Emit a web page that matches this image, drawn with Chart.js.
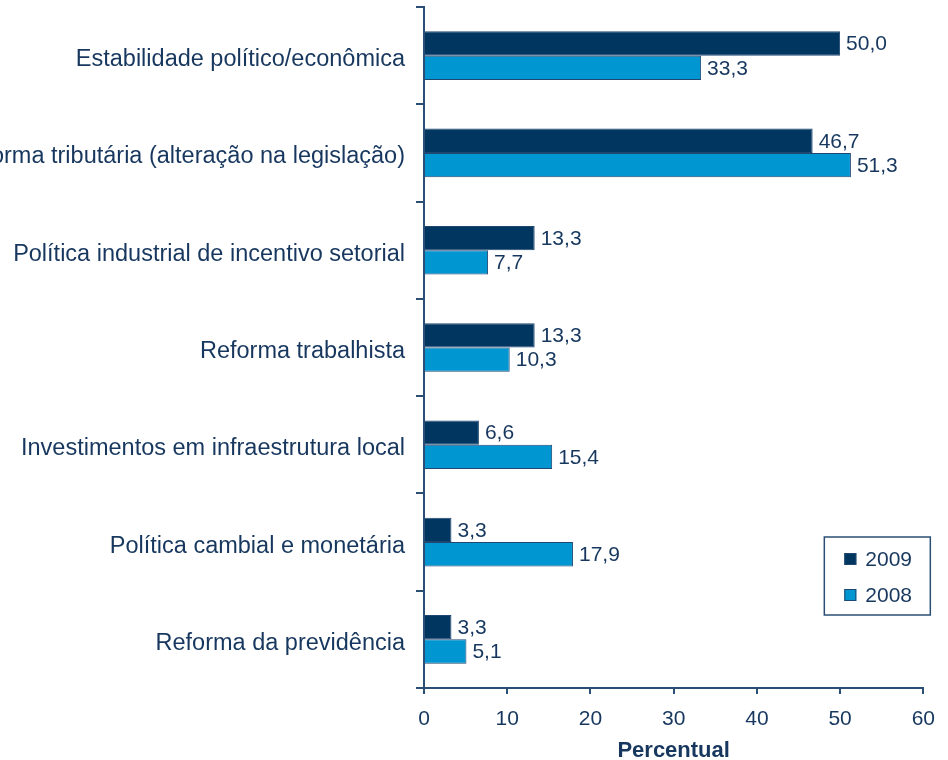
<!DOCTYPE html>
<html>
<head>
<meta charset="utf-8">
<script src="https://cdn.jsdelivr.net/npm/chart.js@4/dist/chart.umd.min.js"></script>
<style>
html,body{margin:0;padding:0;background:#fff;}
#wrap{width:948px;height:760px;position:relative;}
</style>
</head>
<body>
<div id="wrap"><canvas id="c" width="948" height="760"></canvas></div>
<script>
const categories = [
  "Estabilidade político/econômica",
  "Reforma tributária (alteração na legislação)",
  "Política industrial de incentivo setorial",
  "Reforma trabalhista",
  "Investimentos em infraestrutura local",
  "Política cambial e monetária",
  "Reforma da previdência"
];
const values2009 = [50.0, 46.7, 13.3, 13.3, 6.6, 3.3, 3.3];
const values2008 = [33.3, 51.3, 7.7, 10.3, 15.4, 17.9, 5.1];
const seriesLabels = ["2009", "2008"];
const xTicks = [0, 10, 20, 30, 40, 50, 60];
const axisTitle = "Percentual";

const TEXT = '#17375E';
const LINE = '#2B4F74';
const DARK = '#003660';
const LIGHT = '#0096D2';
const FONT = '"Liberation Sans", Arial, sans-serif';

const valueLabels = {
  id: 'valueLabels',
  afterDatasetsDraw(chart) {
    const ctx = chart.ctx;
    ctx.save();
    ctx.font = '21px ' + FONT;
    ctx.fillStyle = TEXT;
    ctx.textAlign = 'left';
    ctx.textBaseline = 'middle';
    chart.data.datasets.forEach((ds, di) => {
      const meta = chart.getDatasetMeta(di);
      meta.data.forEach((el, i) => {
        const v = ds.data[i];
        ctx.fillText(v.toFixed(1).replace('.', ','), el.x + 6, el.y + 1);
      });
    });
    ctx.restore();
  }
};

const boxLegend = {
  id: 'boxLegend',
  afterDraw(chart) {
    const ctx = chart.ctx;
    const a = chart.chartArea;
    const w = 106, h = 78;
    const x0 = a.right + 7 - w;
    const y0 = a.bottom - 73 - h;
    ctx.save();
    ctx.fillStyle = '#fff';
    ctx.fillRect(x0, y0, w, h);
    ctx.strokeStyle = LINE;
    ctx.lineWidth = 1.5;
    ctx.strokeRect(x0, y0, w, h);
    ctx.font = '21px ' + FONT;
    ctx.textBaseline = 'middle';
    ctx.textAlign = 'left';
    chart.data.datasets.forEach((ds, i) => {
      const cy = y0 + 22 + i * 36;
      ctx.fillStyle = ds.backgroundColor;
      ctx.fillRect(x0 + 20, cy - 6, 12, 12);
      ctx.strokeStyle = '#1F4770';
      ctx.lineWidth = 1;
      ctx.strokeRect(x0 + 20.5, cy - 5.5, 11, 11);
      ctx.fillStyle = TEXT;
      ctx.fillText(ds.label, x0 + 41, cy + 1);
    });
    ctx.restore();
  }
};

new Chart(document.getElementById('c'), {
  type: 'bar',
  data: {
    labels: categories,
    datasets: [
      { label: seriesLabels[0], data: values2009, backgroundColor: DARK, borderColor: '#1F4770', borderWidth: 1 },
      { label: seriesLabels[1], data: values2008, backgroundColor: LIGHT, borderColor: '#1F4770', borderWidth: 1 }
    ]
  },
  options: {
    indexAxis: 'y',
    responsive: false,
    animation: false,
    devicePixelRatio: 1,
    layout: { padding: { left: 0, top: 7, right: 24, bottom: 0 } },
    datasets: { bar: { categoryPercentage: 0.5, barPercentage: 1.0 } },
    plugins: {
      legend: { display: false },
      tooltip: { enabled: false }
    },
    scales: {
      y: {
        type: 'category',
        grid: { drawOnChartArea: false, drawTicks: true, tickLength: 8, color: LINE, lineWidth: 2, offset: true },
        border: { display: true, color: LINE, width: 2 },
        ticks: { color: TEXT, font: { family: FONT, size: 23.5 }, padding: 11, autoSkip: false, labelOffset: 4 },
        afterFit(scale) { scale.width = 424; scale.paddingTop = 0; scale.paddingBottom = 0; }
      },
      x: {
        min: 0, max: 60,
        afterBuildTicks(scale) { scale.ticks = xTicks.map(v => ({ value: v })); },
        grid: { drawOnChartArea: false, drawTicks: true, tickLength: 6, color: LINE, lineWidth: 2 },
        border: { display: true, color: LINE, width: 2 },
        ticks: { color: TEXT, font: { family: FONT, size: 21 }, padding: 13, maxRotation: 0 },
        title: { display: true, text: axisTitle, color: TEXT, font: { family: FONT, size: 22, weight: 'bold', lineHeight: 0.8 }, padding: { top: 0, bottom: 0 } },
        afterFit(scale) { scale.height = 72; }
      }
    }
  },
  plugins: [valueLabels, boxLegend]
});
</script>
</body>
</html>
